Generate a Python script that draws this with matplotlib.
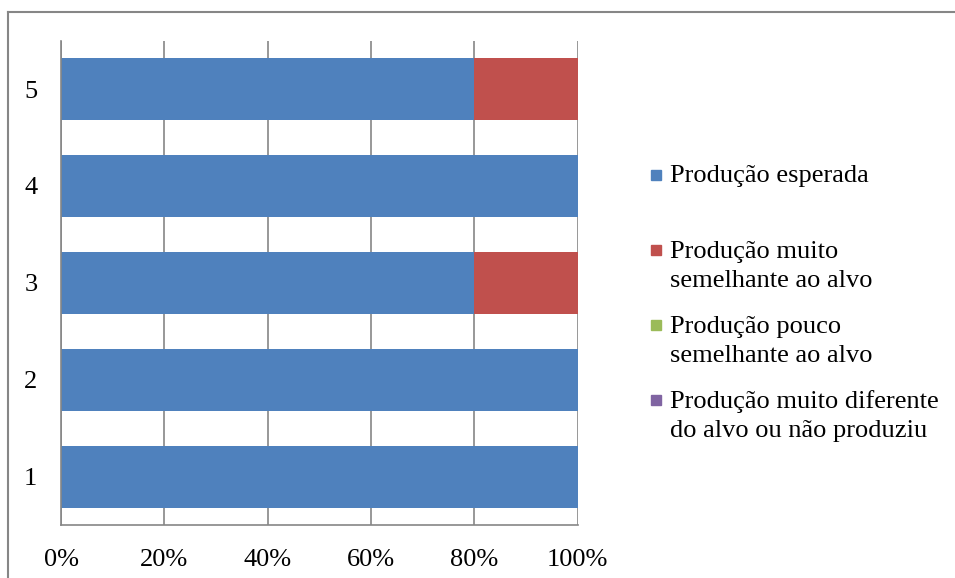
import matplotlib
matplotlib.use("Agg")
import matplotlib.pyplot as plt
from matplotlib.patches import Rectangle
from matplotlib.lines import Line2D
import numpy as np

categories = ["1", "2", "3", "4", "5"]
series_names = [
    "Produção esperada",
    "Produção muito\nsemelhante ao alvo",
    "Produção pouco\nsemelhante ao alvo",
    "Produção muito diferente\ndo alvo ou não produziu",
]
colors = ["#4F81BD", "#C0504D", "#9BBB59", "#8064A2"]
esperada = [100, 100, 80, 100, 80]
muito_semelhante = [0, 0, 20, 0, 20]
pouco_semelhante = [0, 0, 0, 0, 0]
muito_diferente = [0, 0, 0, 0, 0]
series = [esperada, muito_semelhante, pouco_semelhante, muito_diferente]
x_ticks = [0, 20, 40, 60, 80, 100]
x_ticklabels = ["0%", "20%", "40%", "60%", "80%", "100%"]

plt.rcParams["font.family"] = ["Liberation Serif", "DejaVu Serif"]
fig = plt.figure(figsize=(9.55, 5.78), dpi=100)
W, H = 955, 578
FS = 19
ax = fig.add_axes([61 / W, 1 - 525 / H, (577.5 - 61) / W, (525 - 40.7) / H])

ypos = np.arange(1, len(categories) + 1)
left = np.zeros(len(categories))
for vals, c, name in zip(series, colors, series_names):
    ax.barh(ypos, vals, left=left, height=0.64, color=c, label=name, zorder=2)
    left += np.array(vals)

ax.set_xlim(0, 100)
ax.set_ylim(0.5, 5.5)
ax.set_xticks(x_ticks)
ax.set_xticklabels(x_ticklabels)
ax.set_yticks(ypos)
ax.set_yticklabels(categories)
ax.tick_params(axis="both", length=0, labelsize=FS)
ax.tick_params(axis="x", pad=17)
ax.tick_params(axis="y", pad=17)
ax.grid(axis="x", color="#868686", linewidth=1.2, zorder=0)
ax.set_axisbelow(True)
for s in ["top", "right"]:
    ax.spines[s].set_visible(False)
for s in ["left", "bottom"]:
    ax.spines[s].set_color("#868686")
    ax.spines[s].set_linewidth(1.2)

# legend (manual, Excel-like: marker aligned with first line)
sq = 10
gap = 30
for i, (name, c) in enumerate(zip(series_names, colors)):
    yc = 175 + 75 * i
    nlines = name.count("\n") + 1
    fig.add_artist(Rectangle((651 / W, 1 - (yc + sq / 2) / H), sq / W, sq / H,
                             transform=fig.transFigure, color=c))
    fig.text(670 / W, 1 - (yc + 7 + gap * (nlines - 1)) / H, name, fontsize=FS,
             va="baseline", ha="left", linespacing=1.44)

# chart border (top and left visible)
fig.add_artist(Line2D([8 / W, 8 / W], [0, 1 - 12 / H], transform=fig.transFigure,
                      color="#868686", linewidth=1.5))
fig.add_artist(Line2D([8 / W, 1], [1 - 12 / H, 1 - 12 / H], transform=fig.transFigure,
                      color="#868686", linewidth=1.5))

fig.savefig("out.png", dpi=100)
